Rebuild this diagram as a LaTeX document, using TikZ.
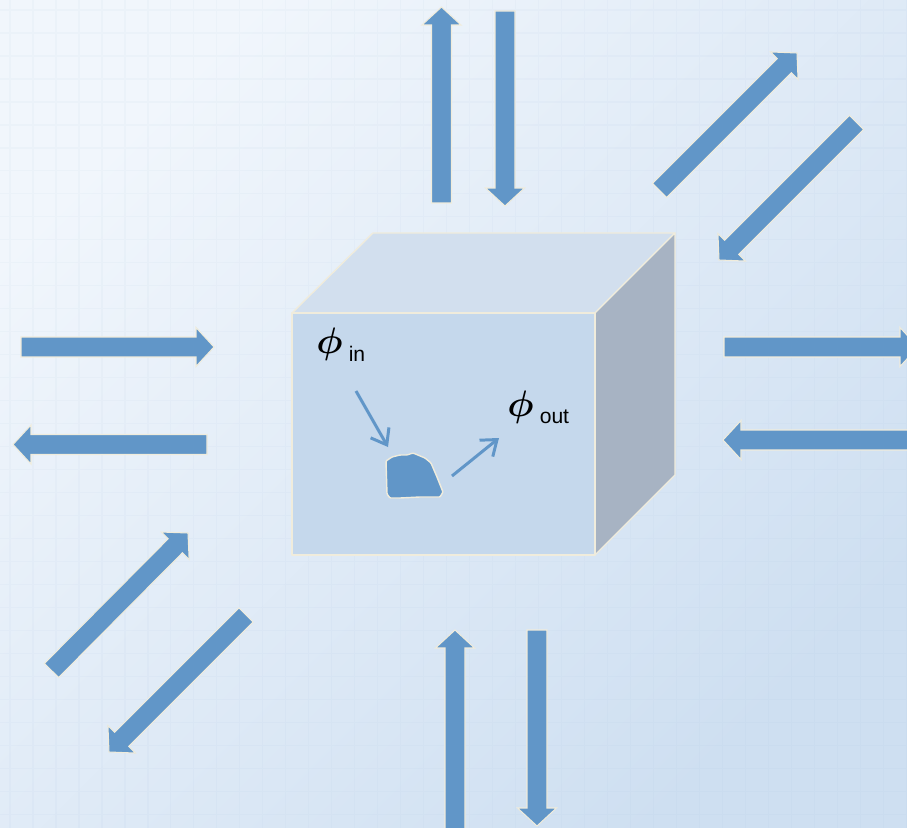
\documentclass[tikz,border=0pt]{standalone}
\usepackage{fix-cm}
\usepackage{bm}
\usepackage{fontspec}
\setmainfont{Liberation Sans}
\usepackage{tikz}
\usetikzlibrary{arrows.meta, calc}
\definecolor{myblue}{RGB}{97,150,200}
\definecolor{mycream}{RGB}{240,236,220}
\definecolor{bgtop}{RGB}{241,246,252}
\definecolor{bgbot}{RGB}{206,223,241}
\definecolor{gridblue}{RGB}{150,180,215}
\definecolor{frontface}{RGB}{197,216,236}
\definecolor{topface}{RGB}{210,223,238}
\definecolor{sideface}{RGB}{167,179,195}
\tikzset{
  face/.style={draw=mycream, line width=0.8pt, line join=round},
  fatarrow/.style={fill=myblue, draw=mycream, line width=0.6pt, line join=miter},
  thinarrow/.style={-{Straight Barb[length=8pt,width=12pt]}, color=myblue,
    line width=1.7pt},
  gridline/.style={draw=gridblue, opacity=0.06, line width=0.6pt},
  philabel/.style={anchor=base west, inner sep=0pt,
    font=\fontsize{12}{14}\selectfont},
  grain/.style={fill=myblue, draw=mycream, line width=0.8pt, rounded corners=0.5pt}
}
% block arrow from tail #1 to tip #2
\newcommand{\fatarrow}[2]{%
  \coordinate (hb) at ($(#2)!0.36cm!(#1)$);
  \filldraw[fatarrow] ($(#1)!0.2cm!90:(#2)$) -- ($(hb)!0.2cm!90:(#2)$)
    -- ($(hb)!0.39cm!90:(#2)$) -- (#2) -- ($(hb)!0.39cm!-90:(#2)$)
    -- ($(hb)!0.2cm!-90:(#2)$) -- ($(#1)!0.2cm!-90:(#2)$) -- cycle;
}
\newcommand{\bigphi}{\scalebox{1.75}{$\bm{\phi}$}\hspace{3.5pt}}

\begin{document}
\begin{tikzpicture}[x=0.02cm, y=-0.02cm]
  \useasboundingbox (0,0) rectangle (907,828);
  \clip (0,0) rectangle (907,828);

  % background
  \shade[top color=bgtop, bottom color=bgbot, shading angle=45]
    (0,0) rectangle (907,828);
  \begin{scope}[shift={(10,10)}]
    \draw[gridline, step=0.46cm] (-10,-10) grid (897,818);
  \end{scope}

  % the box
  \filldraw[face, fill=topface] (292,313) -- (373,233) -- (675,233) -- (595,313) -- cycle;
  \filldraw[face, fill=sideface] (595,313) -- (675,233) -- (675,475) -- (595,555) -- cycle;
  \filldraw[face, fill=frontface] (292,313) rectangle (595,555);

  % flux arrows round the box
  \coordinate (upT) at (441.5,203);   \coordinate (upH) at (441.5,7);
  \coordinate (dnT) at (505,11);      \coordinate (dnH) at (505,206);
  \coordinate (lrT) at (21,347);      \coordinate (lrH) at (214,347);
  \coordinate (llT) at (207,444.5);   \coordinate (llH) at (13,444.5);
  \coordinate (rrT) at (724,347);     \coordinate (rrH) at (918,347);
  \coordinate (rlT) at (935,440);     \coordinate (rlH) at (723,440);
  \coordinate (buT) at (455,845);     \coordinate (buH) at (455,630);
  \coordinate (bdT) at (537,630);     \coordinate (bdH) at (537,826);
  \coordinate (tuT) at (659.5,190.5); \coordinate (tuH) at (797,53);
  \coordinate (tdT) at (856.5,122.5); \coordinate (tdH) at (719,260);
  \coordinate (luT) at (51.5,670.5);  \coordinate (luH) at (188,533);
  \coordinate (ldT) at (246,615);     \coordinate (ldH) at (109,752);
  \foreach \a/\b in {upT/upH, dnT/dnH, lrT/lrH, llT/llH, rrT/rrH, rlT/rlH,
                     buT/buH, bdT/bdH, tuT/tuH, tdT/tdH, luT/luH, ldT/ldH}{
    \fatarrow{\a}{\b}
  }

  % grain inside the box
  \filldraw[grain] (386,461) -- (392,457) -- (400,455) -- (407,455) -- (413,453)
    -- (425,458) -- (431,463) -- (437,477) -- (443,492) -- (440,497)
    -- (420,497) -- (400,498) -- (390,498) -- (387,494) -- cycle;

  \node[philabel] (phiin) at (316,354) {\bigphi\raisebox{-4.5pt}{in}};
  \node[philabel] (phiout) at (507,416) {\bigphi\raisebox{-4.5pt}{out}};

  \coordinate (inA) at (356,391);  \coordinate (inB) at (388,447);
  \coordinate (outA) at (452,476); \coordinate (outB) at (499,438);
  \draw[thinarrow] (inA) -- (inB);
  \draw[thinarrow] (outA) -- (outB);
\end{tikzpicture}
\end{document}
